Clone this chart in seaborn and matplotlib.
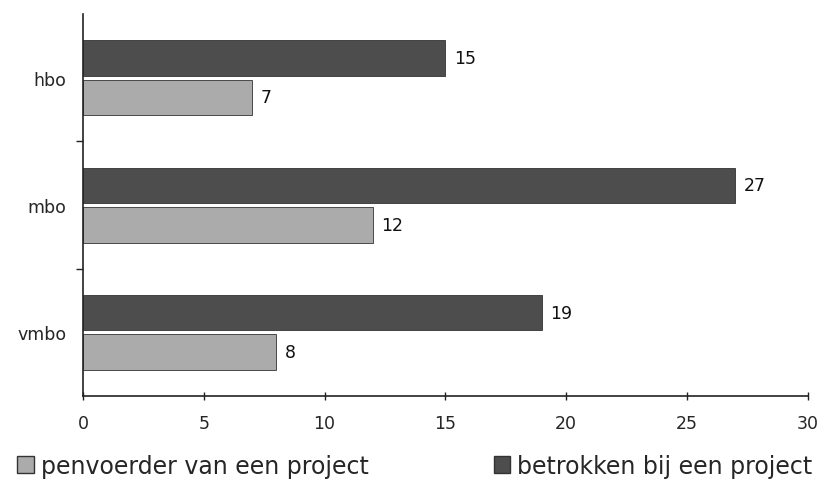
import matplotlib
matplotlib.use("Agg")
import matplotlib.pyplot as plt
import seaborn as sns
import pandas as pd
from matplotlib.patches import Patch

categories = ["hbo", "mbo", "vmbo"]
series_names = ["betrokken bij een project", "penvoerder van een project"]
betrokken = [15, 27, 19]
penvoerder = [7, 12, 8]
x_ticks = [0, 5, 10, 15, 20, 25, 30]

df = pd.DataFrame({
    "niveau": categories * 2,
    "serie": [series_names[0]] * 3 + [series_names[1]] * 3,
    "aantal": betrokken + penvoerder,
})

sns.set_style("white")
plt.rcParams["font.family"] = ["DejaVu Sans"]

colors = {series_names[0]: "#4d4d4d", series_names[1]: "#ababab"}

fig = plt.figure(figsize=(8.25, 5.02), dpi=100)
ax = fig.add_axes([0.1006, 0.209, 0.8785, 0.761])

sns.barplot(data=df, y="niveau", x="aantal", hue="serie", hue_order=series_names,
            order=categories, orient="h", palette=colors, width=0.62, gap=0.1,
            edgecolor="#333333", linewidth=0.6, ax=ax, legend=False)

for cont in ax.containers:
    ax.bar_label(cont, padding=6, fontsize=12.5, color="#111111")

ax.set_xlim(0, 30)
ax.set_xticks(x_ticks)
ax.set_xticklabels([str(t) for t in x_ticks], fontsize=12.5)
ax.set_ylim(2.5, -0.5)
ax.set_yticks(range(len(categories)))
ax.set_yticklabels(categories, fontsize=12.5)
ax.set_yticks([0.5, 1.5], minor=True)
ax.tick_params(axis="y", which="major", left=False, length=0, pad=12)
ax.tick_params(axis="y", which="minor", left=True, length=5, width=1, direction="out", color="#222222")
ax.tick_params(axis="x", bottom=True, length=6, width=1, direction="inout", color="#222222", pad=10)
ax.set_xlabel("")
ax.set_ylabel("")
for s in ["top", "right"]:
    ax.spines[s].set_visible(False)
for s in ["left", "bottom"]:
    ax.spines[s].set_color("#222222")
    ax.spines[s].set_linewidth(1.2)

handles = [Patch(facecolor=colors[series_names[1]], edgecolor="#333333"),
           Patch(facecolor=colors[series_names[0]], edgecolor="#333333")]
labels = [series_names[1], series_names[0]]
fig.legend(handles, labels, loc="center", bbox_to_anchor=(0.503, 0.07), ncol=2,
           frameon=False, fontsize=17, columnspacing=5.3, handlelength=0.7,
           handleheight=0.7, handletextpad=0.3)

fig.savefig("out.png", dpi=100, facecolor="white")
